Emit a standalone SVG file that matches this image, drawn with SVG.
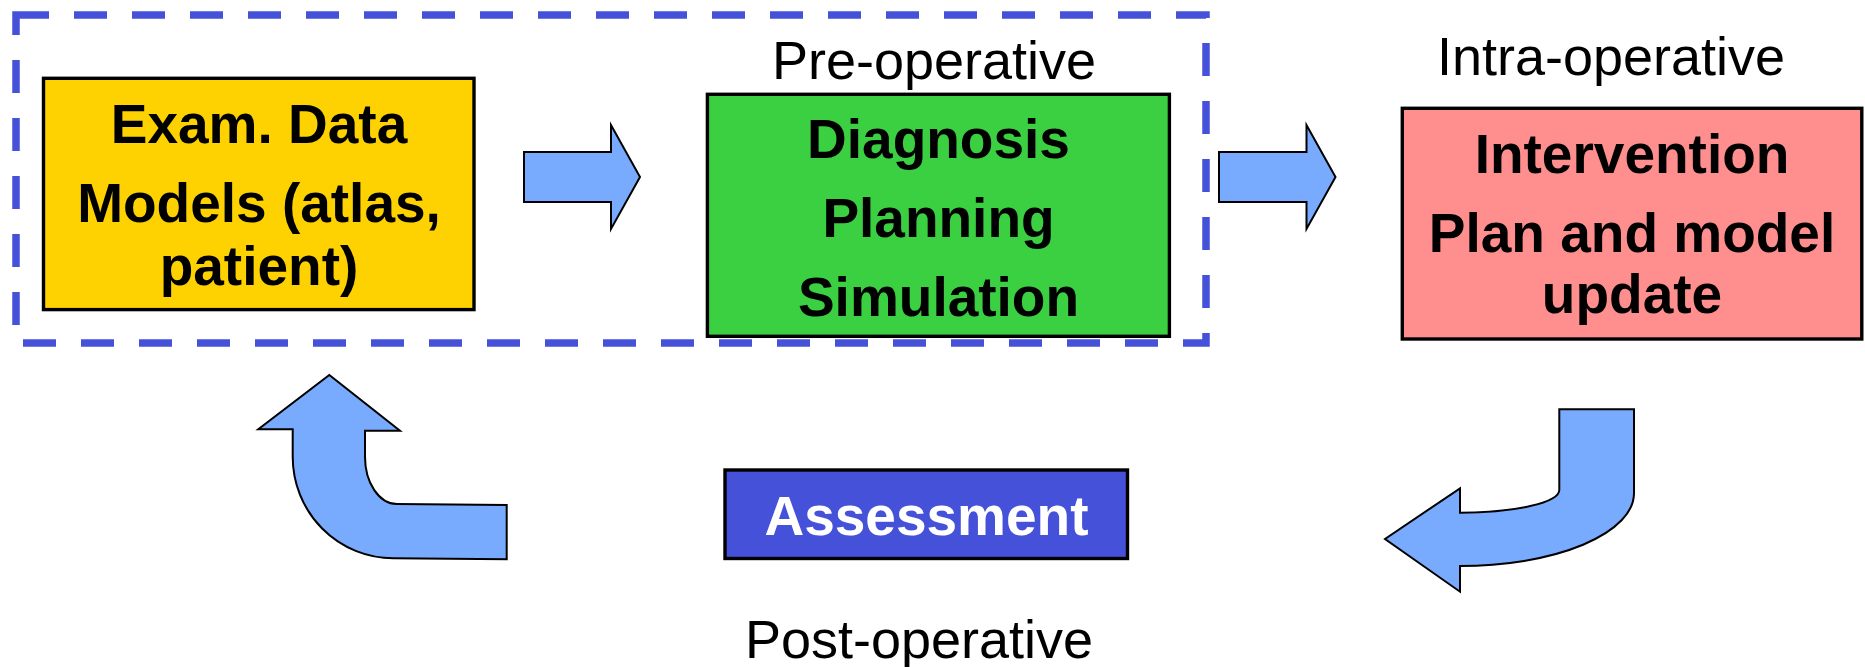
<svg xmlns="http://www.w3.org/2000/svg" width="1865" height="667" viewBox="0 0 1865 667">
<style>
.box{stroke:#000;stroke-width:3.4}
.b{font-family:"Liberation Sans",Arial,sans-serif;font-weight:bold;font-size:55px;text-anchor:middle;fill:#000}
.r{font-family:"Liberation Sans",Arial,sans-serif;font-size:54px;text-anchor:middle;fill:#000}
.arr{fill:#78ABFD;stroke:#000;stroke-width:2;stroke-linejoin:miter}
</style>
<rect width="1865" height="667" fill="#fff"/>
<g id="preop-frame">
<rect x="16" y="15" width="1190" height="328" fill="none" stroke="#4551D8" stroke-width="7.5" stroke-dasharray="33 25"/>
</g>
<g id="label-pre"><text class="r" x="934" y="79">Pre-operative</text></g>
<g id="label-intra"><text class="r" x="1611" y="75">Intra-operative</text></g>
<g id="label-post"><text class="r" x="919" y="658">Post-operative</text></g>
<g id="node-exam">
<rect class="box" x="43.5" y="78.3" width="430.5" height="231.3" fill="#FED200"/>
<text class="b" x="259" y="143">Exam. Data</text>
<text class="b" x="259" y="222">Models (atlas,</text>
<text class="b" x="259" y="285">patient)</text>
</g>
<g id="node-diagnosis">
<rect class="box" x="707.4" y="94.3" width="462" height="242" fill="#3BD042"/>
<text class="b" x="938.5" y="158">Diagnosis</text>
<text class="b" x="938.5" y="237">Planning</text>
<text class="b" x="938.5" y="316">Simulation</text>
</g>
<g id="node-intervention">
<rect class="box" x="1402.3" y="108.3" width="459.5" height="230.7" fill="#FF8F8F"/>
<text class="b" x="1632" y="173">Intervention</text>
<text class="b" x="1632" y="252">Plan and model</text>
<text class="b" x="1632" y="313">update</text>
</g>
<g id="node-assessment">
<rect class="box" x="725" y="470" width="402.5" height="88.5" fill="#4551D8"/>
<text class="b" x="926.5" y="535" fill="#fff" style="fill:#fff">Assessment</text>
</g>
<g id="connectors">
<polygon class="arr" points="524,152 611,152 611,125 640,177 611,229 611,202 524,202"/>
<polygon class="arr" points="1219,152 1306.5,152 1306.5,125 1335.5,177 1306.5,229 1306.5,202 1219,202"/>
<path class="arr" d="M1559.3,409.3 L1634,409.3 L1634,493.3 A174,72.7 0 0 1 1460,566 L1460,591.7 L1385,539 L1460,488.3 L1460,512.7 A99.3,22.7 0 0 0 1559.3,490 Z"/>
<path class="arr" d="M292.7,429.3 L258.3,429.3 L329.3,375 L400,430.7 L365,430.7 L365,456.7 A31.7,47.3 0 0 0 396.7,504 L506.7,505 L506.7,559.3 L393.3,558.3 A100.6,101.6 0 0 1 292.7,456.7 Z"/>
</g>
</svg>
